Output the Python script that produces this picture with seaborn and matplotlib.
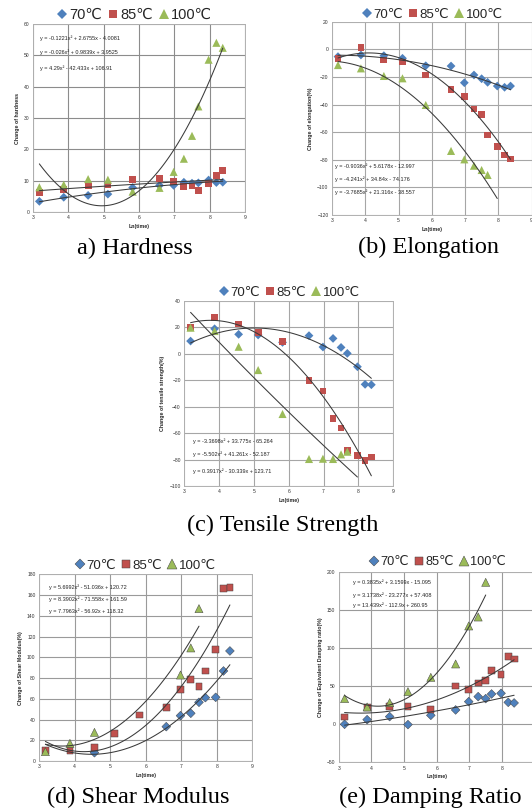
import numpy as np
import pandas as pd
import matplotlib
matplotlib.use("Agg")
import matplotlib.pyplot as plt
import seaborn as sns

# ---------------- data ----------------
series_names = ["70℃", "85℃", "100℃"]
ln_time = [3.18, 3.87, 4.56, 5.12, 5.82, 6.58, 6.98, 7.27, 7.50, 7.68, 7.97, 8.19, 8.37]
nan = np.nan

# (a) Hardness
a70 = [3.4, 4.7, 5.3, 5.7, 7.8, 8.5, 8.5, 9.5, 9.2, 9.3, 10.2, 9.4, 9.5]
a85 = [6.3, 7.2, 8.3, 8.9, 10.5, 10.7, 9.8, 8.2, 8.3, 6.9, 9.1, 11.7, 13.2]
a100 = [7.9, 8.7, 10.5, 10.3, 6.5, 7.7, 12.8, 17.0, 24.3, 33.7, 48.6, 54.0, 52.4]
a_fit70 = [-0.1221, 2.6755, -4.0081]
a_fit85 = [-0.026, 0.9839, 3.9525]
a_fit100 = [4.29, -42.433, 106.91]
a_range = [(3.18, 8.37), (3.18, 8.37), (3.18, 8.37)]

# (b) Elongation
b70 = [-5.3, -4.1, -4.6, -6.5, -11.9, -12.1, -24.2, -18.6, -21.3, -23.9, -26.6, -27.5, -26.6]
b85 = [-6.8, 1.4, -7.8, -9.2, -18.6, -29.2, -34.3, -43.2, -47.1, -62.1, -70.5, -76.5, -79.4]
b100 = [-11.4, -13.8, -19.3, -21.0, -40.3, -73.6, -79.7, -84.3, -87.4, -91.0, nan, nan, nan]
b_fit70 = [-0.9036, 5.6178, -12.997]
b_fit85 = [-4.241, 34.84, -74.176]
b_fit100 = [-3.7685, 21.316, -38.557]
b_range = [(3.18, 8.37), (3.18, 8.37), (3.18, 7.97)]

# (c) Tensile strength
c70 = [9.5, 18.8, 14.6, 14.1, 8.5, 13.6, 5.0, 11.5, 4.7, 0.2, -9.9, -23.2, -23.5]
c85 = [19.9, 27.4, 22.4, 16.1, 9.0, -20.2, -28.2, -49.1, -56.2, -73.1, -77.1, -80.9, -78.1]
c100 = [19.6, 17.1, 5.2, -12.4, -45.6, -79.6, -79.4, -79.6, -76.1, -74.1, nan, nan, nan]
c_fit70 = [-3.3698, 33.775, -65.264]
c_fit85 = [-5.502, 41.261, -52.187]
c_fit100 = [0.3917, -30.339, 123.71]
c_range = [(3.18, 8.37), (3.18, 8.37), (3.18, 7.97)]

# (d) Shear modulus
d70 = [nan, nan, 8.0, nan, nan, 33.1, 43.7, 46.0, 56.6, 61.1, 61.4, 86.8, 106.1]
d85 = [10.0, 10.3, 12.9, 26.4, 44.4, 51.4, 68.8, 78.8, 71.7, 86.8, 107.7, 166.5, 167.1]
d100 = [9.0, 17.0, 27.6, nan, nan, nan, 82.9, 109.0, 146.9, nan, nan, nan, nan]
d_fit70 = [5.6992, -51.036, 120.72]
d_fit85 = [8.3902, -71.558, 161.59]
d_fit100 = [7.7963, -56.92, 118.32]
d_range = [(3.18, 8.37), (3.18, 8.37), (3.18, 7.50)]

# (e) Damping ratio
e70 = [0.0, 6.1, 10.1, -0.4, 11.8, 18.9, 29.8, 36.4, 33.8, 39.9, 40.8, 28.9, 28.1]
e85 = [9.6, 21.9, 23.2, 23.7, 19.3, 50.4, 46.1, 54.4, 57.9, 70.6, 65.4, 89.5, 86.0]
e100 = [33.8, 22.8, 28.5, 43.0, 61.8, 79.4, 129.4, 141.2, 186.8, nan, nan, nan, nan]
e_fit70 = [0.3835, 3.1599, -15.095]
e_fit85 = [3.1738, -23.277, 57.408]
e_fit100 = [13.439, -112.9, 260.95]
e_range = [(3.18, 8.37), (3.18, 8.37), (3.18, 7.50)]

captions = ["a) Hardness", "(b) Elongation", "(c) Tensile Strength",
            "(d) Shear Modulus", "(e) Damping Ratio"]
ylabels = ["Change of hardness", "Change of elongation(%)",
           "Change of tensile strength(%)", "Change of Shear Modulus(%)",
           "Change of Equivalent Damping ratio(%)"]
xlabel = "Ln(time)"

# ---------------- style ----------------
sns.set_theme(style="white")
plt.rcParams["font.family"] = ["Liberation Sans", "DejaVu Sans"]

W, H = 532, 810
fig = plt.figure(figsize=(W / 100, H / 100), dpi=100)

palette = {"70℃": "#4F81BD", "85℃": "#C0504D", "100℃": "#9BBB59"}
markers = {"70℃": "D", "85℃": "s", "100℃": "^"}
sizes = {"70℃": 20, "85℃": 24, "100℃": 34}


def fmt_eq(c):
    def term(v, first=False):
        s = "-" if v < 0 else "+"
        if first:
            return ("-" if v < 0 else "") + f"{abs(v):g}"
        return f" {s} {abs(v):g}"
    return "y = " + term(c[0], True) + "x²" + term(c[1]) + "x" + term(c[2])


def panel(px_box, ylim, ystep, ys, fits, ranges, ylabel, legend_px, legend_fs,
          eq_pos, caption, cap_px, grid_color, edge, xtick_max=9):
    l, r, t, b = px_box  # pixel positions of xlim/ylim ends
    ax = fig.add_axes([l / W, 1 - b / H, (r - l) / W, (b - t) / H])
    rows = []
    for name, yv in zip(series_names, ys):
        for xv, v in zip(ln_time, yv):
            if not np.isnan(v):
                rows.append({"x": xv, "y": v, "series": name})
    df = pd.DataFrame(rows)
    sns.scatterplot(data=df, x="x", y="y", hue="series", style="series",
                    size="series", hue_order=series_names, style_order=series_names,
                    size_order=series_names, palette=palette, markers=markers,
                    sizes=sizes, edgecolor=edge, linewidth=0.35 if edge != "face" else 0,
                    ax=ax, zorder=3, legend=True)
    # trend lines
    lrows = []
    for name, c, (x0, x1) in zip(series_names, fits, ranges):
        xx = np.linspace(x0, x1, 120)
        for xv, v in zip(xx, np.polyval(c, xx)):
            lrows.append({"x": xv, "y": v, "series": name})
    ldf = pd.DataFrame(lrows)
    sns.lineplot(data=ldf, x="x", y="y", units="series", estimator=None,
                 color="#3a3a3a", lw=0.75, ax=ax, legend=False, zorder=4, sort=False)
    ax.set_xlim(3, 9)
    ax.set_ylim(*ylim)
    ax.set_xticks(np.arange(3, xtick_max + 1, 1))
    ax.set_yticks(np.arange(ylim[0], ylim[1] + 0.1, ystep))
    ax.grid(True, color=grid_color, lw=0.8)
    ax.set_axisbelow(True)
    for s in ax.spines.values():
        s.set_color("#b0b0b0")
        s.set_linewidth(0.7)
    ax.tick_params(axis="both", length=0, pad=2.5, labelsize=3.6, colors="#333333")
    ax.set_xlabel(xlabel, fontsize=3.8, fontweight="bold", labelpad=2.5)
    ax.set_ylabel(ylabel, fontsize=3.8, fontweight="bold", labelpad=3)
    # equations
    ex, ey = eq_pos
    for c, yy in zip(fits, ey):
        ax.text(ex, yy, fmt_eq(c), fontsize=4.0, color="#222222", va="center",
                ha="left", zorder=5)
    # legend
    lx = (legend_px[0] - l) / (r - l)
    ly = (b - legend_px[1]) / (b - t)
    sns.move_legend(ax, "center", bbox_to_anchor=(lx, ly), ncol=3, frameon=False,
                    title=None, fontsize=legend_fs, handletextpad=0.1,
                    columnspacing=0.35, handlelength=0.8, markerscale=1.2,
                    borderaxespad=0)
    fig.text(cap_px[0] / W, 1 - cap_px[1] / H, caption, ha="center", va="center",
             fontsize=17.5, family=["Liberation Serif", "DejaVu Serif"], color="black")
    return ax


panel((33, 245, 24, 212), (0, 60), 10, [a70, a85, a100],
      [a_fit70, a_fit85, a_fit100], a_range, ylabels[0], (134, 15), 10.5,
      (3.19, [55.6, 50.9, 45.9]), captions[0], (135, 248), "#8c8c8c", "face")

panel((332, 531.5, 21.7, 215), (-120, 20), 20, [b70, b85, b100],
      [b_fit70, b_fit85, b_fit100], b_range, ylabels[1], (432, 14.7), 9.5,
      (3.09, [-84.3, -94.0, -103.8]), captions[1], (429, 247), "#a6a6a6", "face")

panel((184.3, 393.3, 300.7, 486), (-100, 40), 20, [c70, c85, c100],
      [c_fit70, c_fit85, c_fit100], c_range, ylabels[2], (289, 292.7), 9.5,
      (3.24, [-66.0, -76.1, -88.9]), captions[2], (282.5, 525), "#a6a6a6", "face")

panel((39, 252.3, 574.3, 761), (0, 180), 20, [d70, d85, d100],
      [d_fit70, d_fit85, d_fit100], d_range, ylabels[3], (145, 565.7), 9.5,
      (3.29, [167.5, 155.6, 144.0]), captions[3], (138, 797), "#9a9a9a", "#444444")

panel((338.7, 534.7, 572.3, 762.3), (-50, 200), 50, [e70, e85, e100],
      [e_fit70, e_fit85, e_fit100], e_range, ylabels[4], (437.5, 562.3), 9.2,
      (3.43, [186.4, 170.2, 156.6]), captions[4], (430, 797), "#9a9a9a", "#444444",
      xtick_max=8)

fig.savefig("out.png", dpi=100)
